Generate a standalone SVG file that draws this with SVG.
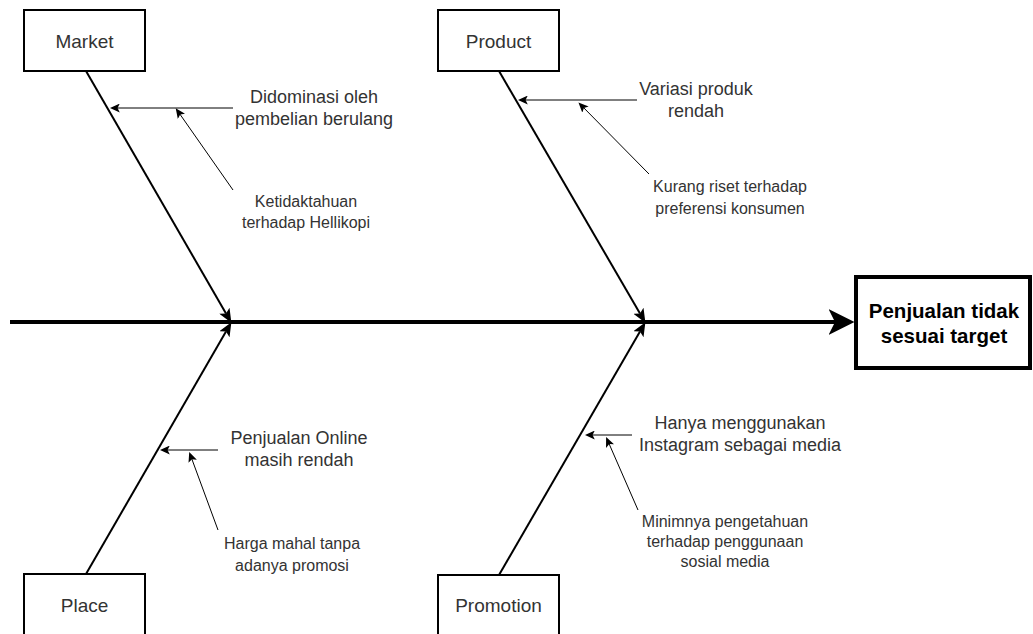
<svg xmlns="http://www.w3.org/2000/svg" width="1033" height="634" viewBox="0 0 1033 634">
<style>
.box{fill:#fff;stroke:#000;stroke-width:2}
.name{font-family:"Liberation Sans",Arial,sans-serif;font-size:19px;fill:#333;text-anchor:middle}
.lbl{font-family:"Liberation Sans",Arial,sans-serif;font-size:18px;fill:#333;text-anchor:middle}
.sm{font-family:"Liberation Sans",Arial,sans-serif;font-size:16px;fill:#333;text-anchor:middle}
.head{font-family:"Liberation Sans",Arial,sans-serif;font-size:20.5px;font-weight:bold;fill:#000;text-anchor:middle}
.spine{stroke:#000;stroke-width:4;fill:none}
.bone{stroke:#000;stroke-width:2;fill:none}
.cause{stroke:#000;stroke-width:1;fill:none}
</style>
<defs>
<marker id="mSpine" markerUnits="userSpaceOnUse" markerWidth="26" markerHeight="26" viewBox="0 0 24 24" refX="6" refY="12" orient="auto">
<path d="M0,0 L24,12 L0,24 L6,12 z" fill="#000"/>
</marker>
<marker id="mBone" markerUnits="userSpaceOnUse" markerWidth="14" markerHeight="12" viewBox="0 0 13 11" refX="3" refY="5.5" orient="auto">
<path d="M0,0 L13,5.5 L0,11 L3,5.5 z" fill="#000"/>
</marker>
<marker id="mCause" markerUnits="userSpaceOnUse" markerWidth="10" markerHeight="9" viewBox="0 0 9 8" refX="7" refY="4" orient="auto">
<path d="M0,0 L9,4 L0,8 L2,4 z" fill="#000"/>
</marker>
</defs>
<g id="connectors">
<line class="spine" x1="10" y1="322" x2="835" y2="322" marker-end="url(#mSpine)"/>
<line class="bone" x1="86" y1="71" x2="226" y2="313.5" marker-end="url(#mBone)"/>
<line class="bone" x1="499" y1="71" x2="640" y2="313.5" marker-end="url(#mBone)"/>
<line class="bone" x1="86" y1="574" x2="226" y2="331.5" marker-end="url(#mBone)"/>
<line class="bone" x1="499" y1="575" x2="640" y2="331.5" marker-end="url(#mBone)"/>
<line class="cause" x1="233" y1="108" x2="112" y2="108" marker-end="url(#mCause)"/>
<line class="cause" x1="233" y1="190" x2="177" y2="110" marker-end="url(#mCause)"/>
<line class="cause" x1="637" y1="100" x2="520" y2="100" marker-end="url(#mCause)"/>
<line class="cause" x1="649" y1="174" x2="580" y2="104" marker-end="url(#mCause)"/>
<line class="cause" x1="218" y1="450" x2="162" y2="450" marker-end="url(#mCause)"/>
<line class="cause" x1="218" y1="530" x2="190" y2="454" marker-end="url(#mCause)"/>
<line class="cause" x1="632" y1="435" x2="587" y2="435" marker-end="url(#mCause)"/>
<line class="cause" x1="638" y1="510" x2="607" y2="439" marker-end="url(#mCause)"/>
</g>
<g id="market">
<rect class="box" x="24" y="10" width="121" height="61"/>
<text class="name" x="84.5" y="48">Market</text>
</g>
<g id="product">
<rect class="box" x="438" y="10" width="121" height="61"/>
<text class="name" x="498.5" y="48">Product</text>
</g>
<g id="place">
<rect class="box" x="24" y="574" width="121" height="62"/>
<text class="name" x="84.5" y="612">Place</text>
</g>
<g id="promotion">
<rect class="box" x="438" y="575" width="121" height="62"/>
<text class="name" x="498.5" y="612">Promotion</text>
</g>
<g id="effect">
<rect x="856" y="277" width="174" height="91" fill="#fff" stroke="#000" stroke-width="4"/>
<text class="head" x="944" y="318">Penjualan tidak</text>
<text class="head" x="944" y="343">sesuai target</text>
</g>
<g id="cause-market-1">
<text class="lbl" x="314" y="103">Didominasi oleh</text>
<text class="lbl" x="314" y="125">pembelian berulang</text>
</g>
<g id="cause-market-2">
<text class="sm" x="306" y="207">Ketidaktahuan</text>
<text class="sm" x="306" y="228">terhadap Hellikopi</text>
</g>
<g id="cause-product-1">
<text class="lbl" x="696" y="95">Variasi produk</text>
<text class="lbl" x="696" y="117">rendah</text>
</g>
<g id="cause-product-2">
<text class="sm" x="730" y="192">Kurang riset terhadap</text>
<text class="sm" x="730" y="214">preferensi konsumen</text>
</g>
<g id="cause-place-1">
<text class="lbl" x="299" y="444">Penjualan Online</text>
<text class="lbl" x="299" y="466">masih rendah</text>
</g>
<g id="cause-place-2">
<text class="sm" x="292" y="549">Harga mahal tanpa</text>
<text class="sm" x="292" y="571">adanya promosi</text>
</g>
<g id="cause-promotion-1">
<text class="lbl" x="740" y="429">Hanya menggunakan</text>
<text class="lbl" x="740" y="451">Instagram sebagai media</text>
</g>
<g id="cause-promotion-2">
<text class="sm" x="725" y="527">Minimnya pengetahuan</text>
<text class="sm" x="725" y="547">terhadap penggunaan</text>
<text class="sm" x="725" y="567">sosial media</text>
</g>
</svg>
